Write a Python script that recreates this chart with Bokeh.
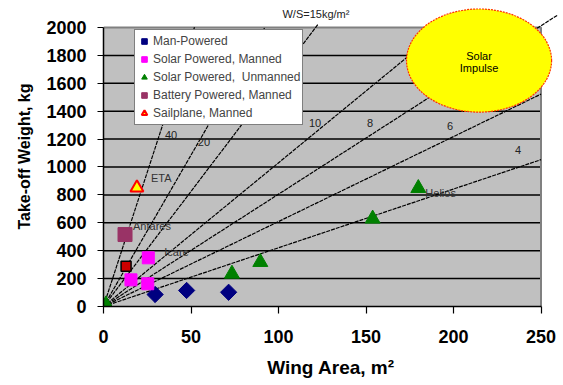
import math
from bokeh.plotting import figure
from bokeh.models import Range1d, FixedTicker, Label
from bokeh.embed import file_html
from bokeh.resources import INLINE
from bokeh.core.properties import value

# ---- data ----
man_x = [29.5, 47.5, 71.5]
man_y = [86, 115, 102]
solar_manned_x = [25.6, 15.7, 25.3]
solar_manned_y = [349, 191, 163]
solar_manned_red_x = [12.9]
solar_manned_red_y = [289]
solar_unmanned_x = [1.4, 73.4, 89.6, 153.8, 179.9]
solar_unmanned_y = [14, 234, 318, 629, 848]
battery_x = [12.3]
battery_y = [516]
sail_x = [19.1]
sail_y = [851]

aircraft_names = ["ETA", "Antares", "Icare", "Helios"]
aircraft_x = [19.1, 12.3, 25.6, 179.9]
aircraft_y = [851, 516, 349, 848]

ws_labels = ["40", "20", "15", "10", "8", "6", "4"]
ws_slopes = [38.5, 21.7, 16.5, 10.3, 8.05, 6.09, 4.21]
ws_end_x = [52, 92, 122.6, 195, 259.7, 250, 250]

x_ticks = [0, 50, 100, 150, 200, 250]
y_ticks = [0, 200, 400, 600, 800, 1000, 1200, 1400, 1600, 1800, 2000]

FONT = "Liberation Sans"

p = figure(width=563, height=385, output_backend="svg", toolbar_location=None,
           x_range=Range1d(0, 260), y_range=Range1d(0, 2150.5),
           min_border_left=103, min_border_right=5, min_border_top=6,
           min_border_bottom=79)
p.outline_line_color = None
p.xgrid.visible = False
p.ygrid.visible = False
p.background_fill_color = "white"
p.border_fill_color = "white"

# plot area
p.quad(left=x_ticks[0], right=x_ticks[-1], bottom=y_ticks[0], top=y_ticks[-1],
       fill_color="#C0C0C0", line_color=None)
# horizontal gridlines
p.segment(x0=[x_ticks[0]] * (len(y_ticks) - 2), x1=[x_ticks[-1]] * (len(y_ticks) - 2),
          y0=y_ticks[1:-1], y1=y_ticks[1:-1], line_color="black", line_width=1.5)
# gray border top/right
p.line(x=[x_ticks[0], x_ticks[-1], x_ticks[-1]], y=[y_ticks[-1], y_ticks[-1], y_ticks[0]],
       line_color="#808080", line_width=2)

# W/S lines
p.segment(x0=[0] * len(ws_slopes), y0=[0] * len(ws_slopes), x1=ws_end_x,
          y1=[s * x for s, x in zip(ws_slopes, ws_end_x)],
          line_color="black", line_width=1.2, line_dash="4 1")

# markers
p.scatter(man_x, man_y, marker="square", angle=math.pi / 4, size=11.5, fill_color="#000080",
          line_color="#000080", legend_label="Man-Powered")
p.scatter(solar_manned_x, solar_manned_y, marker="square", size=12, fill_color="#FF00FF",
          line_color="#FF00FF", legend_label="Solar Powered, Manned")
p.scatter(solar_unmanned_x, solar_unmanned_y, marker="triangle", size=15, fill_color="#008000",
          line_color="#008000", legend_label="Solar Powered,  Unmanned")
p.scatter(battery_x, battery_y, marker="square", size=14, fill_color="#993366",
          line_color="#993366", legend_label="Battery Powered, Manned")
p.scatter(sail_x, sail_y, marker="triangle", size=13, fill_color="#FFFF00",
          line_color="#FF0000", line_width=2, legend_label="Sailplane, Manned")
p.scatter(solar_manned_red_x, solar_manned_red_y, marker="square", size=10,
          fill_color="#CC0000", line_color="black", line_width=1.5)

# point labels
p.text(x=aircraft_x, y=aircraft_y, text=aircraft_names,
       x_offset=[14, 8, 16, 7], y_offset=[-10, -9, -6, 5],
       text_align="left", text_baseline="middle", text_font=value(FONT),
       text_font_size="11px", text_color="#333333")

# Solar Impulse ellipse
p.ellipse(x=214.6, y=1763, width=82.9, height=740, fill_color="#FFFF00",
          line_color="#FF3300", line_width=1.2, line_dash="2 1")
p.add_layout(Label(x=214.6, y=1763, text="Solar", text_align="center", text_baseline="bottom",
                   y_offset=-1, text_font=FONT, text_font_size="11px", text_color="black"))
p.add_layout(Label(x=214.6, y=1763, text="Impulse", text_align="center", text_baseline="top",
                   y_offset=-1, text_font=FONT, text_font_size="11px", text_color="black"))

# W/S line labels
ws_label_pos = [(38.6, 1226, "40"), (57.4, 1176, "20"), (121.4, 2100, "W/S=15kg/m²"),
                (120.9, 1312, "10"), (152.3, 1312, "8"), (198, 1297, "6"), (236.9, 1125, "4")]
for lx, ly, lt in ws_label_pos:
    p.add_layout(Label(x=lx, y=ly, text=lt, text_align="center", text_baseline="middle",
                       text_font=FONT, text_font_size="11px", text_color="#222222"))

# axes
p.xaxis.ticker = FixedTicker(ticks=x_ticks)
p.yaxis.ticker = FixedTicker(ticks=y_ticks)
p.xaxis.bounds = (x_ticks[0], x_ticks[-1])
p.yaxis.bounds = (y_ticks[0], y_ticks[-1])
for ax in (p.xaxis, p.yaxis):
    ax.axis_line_color = "black"
    ax.axis_line_width = 1.5
    ax.major_tick_line_color = "black"
    ax.major_tick_line_width = 1.2
    ax.minor_tick_line_color = None
    ax.major_tick_in = 0
    ax.major_label_text_font = FONT
    ax.major_label_text_font_style = "bold"
    ax.major_label_text_font_size = "18px"
    ax.major_label_text_color = "black"
    ax.axis_label_text_font = FONT
    ax.axis_label_text_font_style = "bold"
    ax.axis_label_text_color = "black"
p.xaxis.major_tick_out = 7
p.yaxis.major_tick_out = 6
p.xaxis.major_label_standoff = 16
p.yaxis.major_label_standoff = 11
p.xaxis.axis_label = "Wing Area, m²"
p.yaxis.axis_label = "Take-off Weight, kg"
p.xaxis.axis_label_text_font_size = "19px"
p.yaxis.axis_label_text_font_size = "16px"
p.xaxis.axis_label_standoff = 11
p.yaxis.axis_label_standoff = 10

# legend
lg = p.legend[0]
lg.location = (31, 181)
lg.label_text_font = FONT
lg.label_text_font_size = "12px"
lg.label_height = 18
lg.glyph_height = 18
lg.glyph_width = 14
lg.spacing = 0
lg.padding = 2
lg.margin = 0
lg.label_standoff = 2
lg.border_line_color = "black"
lg.border_line_width = 1
lg.background_fill_color = "white"
lg.background_fill_alpha = 1

open("out.html", "w").write(file_html(p, INLINE))
